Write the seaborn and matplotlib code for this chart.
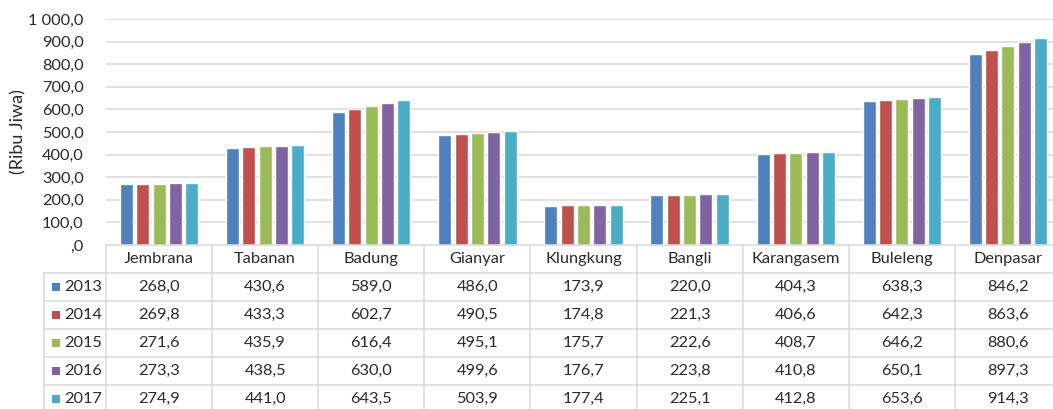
import matplotlib
matplotlib.use("Agg")
import matplotlib.pyplot as plt
from matplotlib.patches import Rectangle
from matplotlib.ticker import FuncFormatter
import pandas as pd
import seaborn as sns

# Jumlah penduduk per kabupaten/kota di Bali (ribu jiwa)
kabupaten = ["Jembrana", "Tabanan", "Badung", "Gianyar", "Klungkung",
             "Bangli", "Karangasem", "Buleleng", "Denpasar"]
tahun = ["2013", "2014", "2015", "2016", "2017"]
pend_2013 = [268.0, 430.6, 589.0, 486.0, 173.9, 220.0, 404.3, 638.3, 846.2]
pend_2014 = [269.8, 433.3, 602.7, 490.5, 174.8, 221.3, 406.6, 642.3, 863.6]
pend_2015 = [271.6, 435.9, 616.4, 495.1, 175.7, 222.6, 408.7, 646.2, 880.6]
pend_2016 = [273.3, 438.5, 630.0, 499.6, 176.7, 223.8, 410.8, 650.1, 897.3]
pend_2017 = [274.9, 441.0, 643.5, 503.9, 177.4, 225.1, 412.8, 653.6, 914.3]
y_ticks = [0, 100, 200, 300, 400, 500, 600, 700, 800, 900, 1000]

series = [pend_2013, pend_2014, pend_2015, pend_2016, pend_2017]
warna = ["#4F81BD", "#C0504D", "#9BBB59", "#8064A2", "#4BACC6"]

df = pd.DataFrame(
    [(k, t, v) for t, vals in zip(tahun, series) for k, v in zip(kabupaten, vals)],
    columns=["Kabupaten", "Tahun", "Penduduk"],
)

sns.set_theme(style="white")
plt.rcParams["font.family"] = ["Lato", "DejaVu Sans"]
teks = "#2b2b2b"
garis = "#D9D9D9"
fs = 11.8

W, H = 1053, 409
fig = plt.figure(figsize=(W / 100, H / 100), dpi=100)

# plot area in pixels
x0, x1 = 106, 1061
y_top, y_base = 19, 245
ax = fig.add_axes([x0 / W, (H - y_base) / H, (x1 - x0) / W, (y_base - y_top) / H])

sns.barplot(data=df, x="Kabupaten", y="Penduduk", hue="Tahun",
            palette=warna, width=0.77, gap=0.2, ax=ax, legend=False,
            order=kabupaten, hue_order=tahun, saturation=1)

ax.set_xlim(-0.5, len(kabupaten) - 0.5)
ax.set_ylim(0, 1000)
ax.set_yticks(y_ticks)


def fmt(v, _):
    if v == 0:
        return ",0"
    return f"{v:,.1f}".replace(",", " ").replace(".", ",")


ax.yaxis.set_major_formatter(FuncFormatter(fmt))
ax.tick_params(axis="y", length=0, pad=16, labelsize=fs, labelcolor=teks)
ax.set_xticks([])
ax.set_xlabel("")
ax.set_ylabel("")
for t in y_ticks[1:]:
    ax.axhline(t, color=garis, lw=1.1, zorder=0)
for s in ax.spines.values():
    s.set_visible(False)
ax.set_axisbelow(True)

fig.text(18 / W, 1 - 132 / H, "(Ribu Jiwa)", rotation=90, ha="center",
         va="center", fontsize=13, color=teks)

# data table below the plot
row_h = 28
tab_left = 44
tab_bottom = 414
tab = fig.add_axes([tab_left / W, (H - tab_bottom) / H, (x1 - tab_left) / W,
                    (tab_bottom - y_base) / H])
cat_w = (x1 - x0) / len(kabupaten)
left_edge = -0.5 - (x0 - tab_left) / cat_w
n_rows = (tab_bottom - y_base) / row_h
tab.set_xlim(left_edge, len(kabupaten) - 0.5)
tab.set_ylim(n_rows, 0)
tab.axis("off")

lw = 1.1
# horizontal lines
tab.plot([-0.5, len(kabupaten) - 0.5], [0, 0], color=garis, lw=lw, clip_on=False)
for r in range(1, len(tahun) + 1):
    tab.plot([left_edge, len(kabupaten) - 0.5], [r, r], color=garis, lw=lw,
             clip_on=False)
# vertical lines
for i in range(len(kabupaten) + 1):
    tab.plot([i - 0.5, i - 0.5], [0, n_rows], color=garis, lw=lw, clip_on=False)
tab.plot([left_edge, left_edge], [1, n_rows], color=garis, lw=lw, clip_on=False)

for i, k in enumerate(kabupaten):
    tab.text(i, 0.5, k, ha="center", va="center", fontsize=fs, color=teks)

sq = 8 / cat_w
for r, (t, vals, c) in enumerate(zip(tahun, series, warna), start=1):
    ym = r + 0.5
    tab.add_patch(Rectangle((left_edge + 8 / cat_w, ym - 4 / row_h), sq,
                            8 / row_h, color=c, lw=0))
    tab.text(left_edge + 20 / cat_w, ym, t, ha="left", va="center",
             fontsize=fs, color=teks)
    for i, v in enumerate(vals):
        tab.text(i, ym, f"{v:.1f}".replace(".", ","), ha="center",
                 va="center", fontsize=fs, color=teks)

fig.savefig("out.png", dpi=100)
